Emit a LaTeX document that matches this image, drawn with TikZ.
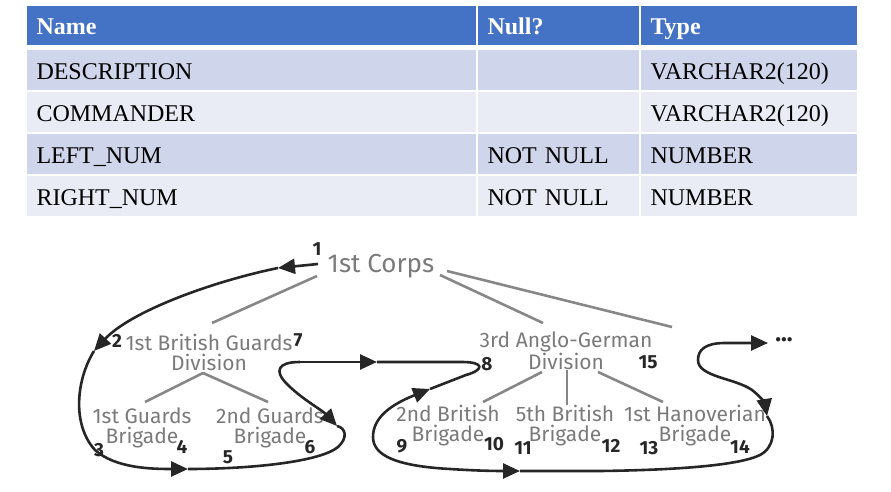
\documentclass[tikz,border=0pt]{standalone}
\usepackage{fontspec}
\setmainfont{Liberation Serif}
\newfontfamily\handfont{Fira Sans}
\usetikzlibrary{positioning}
\usetikzlibrary{arrows.meta}
\definecolor{hdblue}{HTML}{4472C4}
\definecolor{rowdark}{HTML}{CFD5EA}
\definecolor{rowlight}{HTML}{E9EBF5}
\definecolor{inkgray}{HTML}{7A7A7A}
\definecolor{pen}{HTML}{262626}

\begin{document}
\begin{tikzpicture}[x=1pt, y=-1pt,
            node distance = 0pt,
            cell/.style = {draw=white, line width=1.5pt, outer sep=0pt,
                anchor=north west, minimum height=42pt, inner xsep=10.5pt,
                text height=19pt, text depth=0pt, align=left,
                font=\fontsize{24}{28}\selectfont},
            hcell/.style = {cell, fill=hdblue, text=white, minimum height=41pt,
                font=\fontsize{24}{28}\selectfont\bfseries},
            dkcell/.style = {cell, fill=rowdark},
            ltcell/.style = {cell, fill=rowlight},
            wname/.style = {text width=430pt},
            wnull/.style = {text width=142pt},
            wtype/.style = {text width=197pt},
            unitlabel/.style = {align=center, inner sep=1pt, text=inkgray,
                font=\handfont\fontsize{21}{20}\selectfont},
            num/.style = {inner sep=0pt, text=pen,
                font=\handfont\bfseries\fontsize{19}{19}\selectfont},
            branch/.style = {draw=inkgray!90, line width=2.6pt},
            trail/.style = {draw=pen, line width=2.6pt, line join=round},
            walk/.style = {trail, -{Triangle[length=17pt,width=15pt]}}]
            \useasboundingbox (0,0) rectangle (891,492);

            \node[hcell, wname] (hname) at (26,5) {Name};
            \node[hcell, wnull, right=of hname] (hnull) {Null?};
            \node[hcell, wtype, right=of hnull] (htype) {Type};
            \node[dkcell, wname, below=3pt of hname] (r1name) {DESCRIPTION};
            \node[dkcell, wnull, right=of r1name] (r1null) {};
            \node[dkcell, wtype, right=of r1null] (r1type) {VARCHAR2(120)};
            \node[ltcell, wname, below=of r1name] (r2name) {COMMANDER};
            \node[ltcell, wnull, right=of r2name] (r2null) {};
            \node[ltcell, wtype, right=of r2null] (r2type) {VARCHAR2(120)};
            \node[dkcell, wname, below=of r2name] (r3name) {LEFT\_NUM};
            \node[dkcell, wnull, right=of r3name] (r3null) {NOT NULL};
            \node[dkcell, wtype, right=of r3null] (r3type) {NUMBER};
            \node[ltcell, wname, below=of r3name] (r4name) {RIGHT\_NUM};
            \node[ltcell, wnull, right=of r4name] (r4null) {NOT NULL};
            \node[ltcell, wtype, right=of r4null] (r4type) {NUMBER};

            \node[unitlabel, font=\handfont\fontsize{26}{26}\selectfont] (corps) at (381,266) {1st Corps};
            \node[unitlabel] (div1) at (209,352) {1st British Guards\\Division};
            \node[unitlabel] (div2) at (566,351) {3rd Anglo-German\\Division};
            \node[unitlabel] (bde1) at (142,428) {1st Guards\\Brigade};
            \node[unitlabel] (bde2) at (270,428) {2nd Guards\\Brigade};
            \node[unitlabel] (bde3) at (448,426) {2nd British\\Brigade};
            \node[unitlabel] (bde4) at (565,426) {5th British\\Brigade};
            \node[unitlabel] (bde5) at (695,426) {1st Hanoverian\\Brigade};
            \coordinate (other) at (672,327);

            \draw[branch] ([shift={(-64,10)}]corps.center) -- ([shift={(3,-29)}]div1.center);
            \draw[branch] ([shift={(59,9)}]corps.center) -- ([shift={(-23,-28)}]div2.center);
            \draw[branch] ([shift={(66,5)}]corps.center) -- (other);
            \draw[branch] ([shift={(-6,21)}]div1.center) -- ([shift={(3,-26)}]bde1.center);
            \draw[branch] ([shift={(-6,21)}]div1.center) -- ([shift={(-2,-26)}]bde2.center);
            \draw[branch] ([shift={(-24,21)}]div2.center) -- ([shift={(35,-24)}]bde3.center);
            \draw[branch] ([shift={(1,19)}]div2.center) -- ([shift={(2,-21)}]bde4.center);
            \draw[branch] ([shift={(32,21)}]div2.center) -- ([shift={(-32,-24)}]bde5.center);

            \node[num] (n1) at (317,249) {1};
            \node[num] (n2) at (117,341) {2};
            \node[num] (n3) at (99,450) {3};
            \node[num] (n4) at (182,447) {4};
            \node[num] (n5) at (228,457) {5};
            \node[num] (n6) at (310,447) {6};
            \node[num] (n7) at (298,340) {7};
            \node[num] (n8) at (487,364) {8};
            \node[num] (n9) at (402,446) {9};
            \node[num] (n10) at (494,444) {10};
            \node[num] (n11) at (523,448) {11};
            \node[num] (n12) at (611,446) {12};
            \node[num] (n13) at (649,448) {13};
            \node[num] (n14) at (740,447) {14};
            \node[num] (n15) at (648,362) {15};
            \node[num, font=\handfont\bfseries\fontsize{24}{24}\selectfont] (more) at (784,340) {...};

            \coordinate (p0) at (318,264);
            \coordinate (t1) at (278,268);
            \coordinate (t2) at (94,351);
            \coordinate (t3) at (188,469);
            \coordinate (t4) at (337,426);
            \coordinate (m1) at (300,362);
            \coordinate (t5) at (377,362);
            \coordinate (t6) at (430,389);
            \coordinate (m3) at (373,437);
            \coordinate (t8) at (520,471);
            \coordinate (t7) at (767,416);
            \coordinate (m4) at (698,360);
            \coordinate (t9) at (768,343);

            \draw[walk] (p0) -- (t1);
            \draw[walk] (t1) .. controls (210,282) and (130,312) .. (t2);
            \draw[walk] (t2) .. controls (76,380) and (72,425) .. (95,450)
                .. controls (115,468) and (150,469) .. (t3);
            \draw[trail] (t3) .. controls (250,469) and (320,462) .. (338,447)
                .. controls (348,438) and (346,428) .. (t4);
            \draw[walk] (m1) .. controls (276,362) and (276,372) .. (285,382)
                .. controls (300,398) and (322,410) .. (t4);
            \draw[walk] (m1) -- (t5);
            \draw[trail] (t5) -- (462,362) .. controls (485,362) and (484,370) .. (466,375) -- (t6);
            \draw[walk] (m3) .. controls (373,418) and (390,405) .. (t6);
            \draw[walk] (m3) .. controls (373,455) and (395,466) .. (450,469)
                .. controls (480,471) and (500,471) .. (t8);
            \draw[trail] (t8) -- (600,471) .. controls (680,470) and (740,465) .. (760,455)
                .. controls (775,447) and (776,428) .. (t7);
            \draw[walk] (m4) .. controls (698,377) and (735,378) .. (752,390)
                .. controls (760,396) and (765,404) .. (t7);
            \draw[walk] (m4) .. controls (698,350) and (705,343) .. (725,343) -- (t9);
        \end{tikzpicture}
\end{document}
